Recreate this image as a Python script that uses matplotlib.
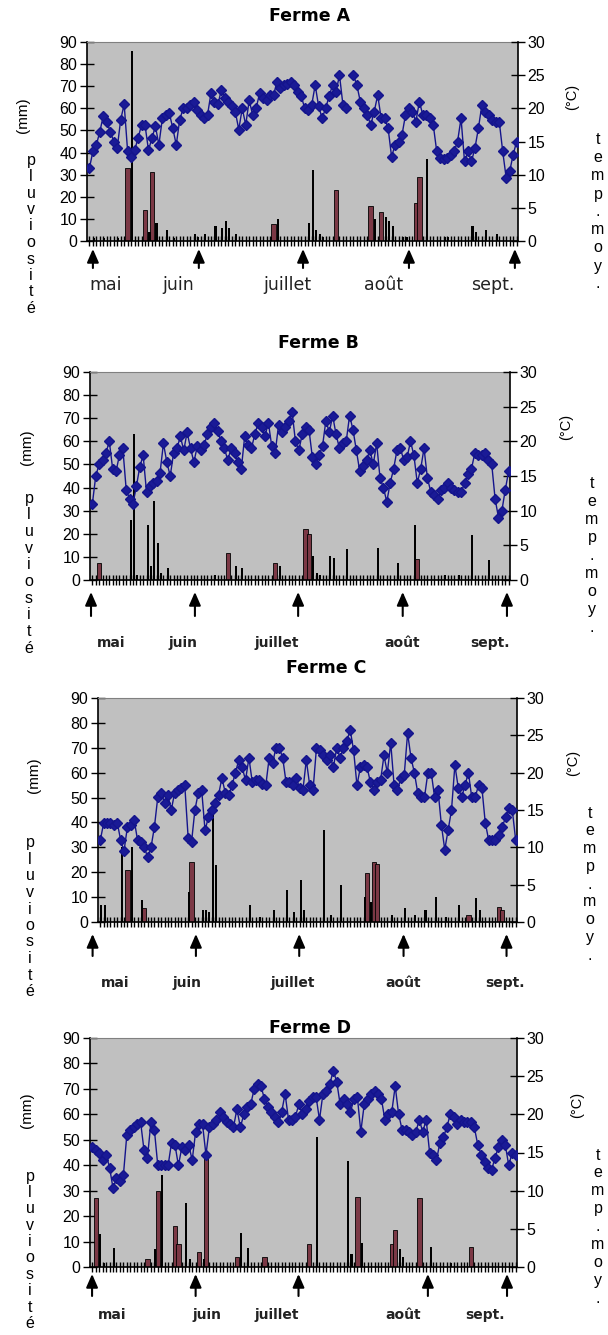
import numpy as np
import matplotlib.pyplot as plt

W, H = 608, 1335
plt.rcParams['font.family'] = ['Liberation Sans', 'DejaVu Sans']

days = np.arange(124)  # 1 May .. 1 Sept

# mean daily temperature (degC), one value per day
temp_a = [11, 13.5, 14.5, 16.5, 18.9, 18, 16.5, 15, 14, 18.3,
          20.6, 13.5, 12.7, 13.7, 15.5, 17.5, 17.5, 13.7, 15.5, 17.3,
          14.5, 18.5, 19, 19.3, 17, 14.5, 18.3, 20, 20, 20.5,
          20.9, 19.8, 19, 18.5, 19, 22.3, 21, 20.6, 22.8, 21.5,
          21, 20.3, 19.5, 16.8, 20, 17.5, 21.2, 19, 20, 22.3,
          21.5, 21.2, 22, 22, 24, 23, 23.5, 23.7, 24, 23.5,
          22.5, 21.8, 20, 19.8, 20.5, 23.5, 20.3, 18.5, 20, 21.8,
          23.5, 22.5, 25, 20.5, 20, np.nan, 25, 23.5, 21, 20,
          19, 17.5, 19.5, 22, 18.5, 18.5, 17, 12.7, 14.5, 15,
          16, 19, 20, 19.5, 18, 21, 19, 19, 18.5, 17.5,
          13.5, 12.5, 12.3, 12.5, 13, 13.5, 15, 18.5, 12, 13.5,
          12, 14, 17, 20.5, 19.5, 19, 18.3, 18, 18, 13.5,
          9.5, 10.5, 13, 15]

temp_b = [11.0, 15.0, 16.7, 17.3, 18.3, 20.0, 16.0, 15.7, 18.0, 19.0,
          13.0, 11.7, 11.0, 13.5, 16.3, 18.0, 12.7, 13.5, 14.0, 14.3,
          15.5, 19.7, 17.0, 15.0, 18.3, 19.0, 20.7, 18.7, 21.3, 19.0,
          17.0, 19.3, 18.7, 19.5, 21.0, 22.0, 22.7, 21.5, 20.0, 19.0,
          17.3, 19.0, 18.3, 17.0, 16.0, 20.7, 19.5, 19.0, 21.0, 22.7,
          22.0, 20.7, 22.7, 19.3, 18.3, 22.3, 21.3, 22.0, 23.0, 24.3,
          20.0, 18.7, 21.0, 22.0, 21.7, 17.7, 16.7, 18.0, 19.3, 23.0,
          21.3, 23.7, 21.0, 19.0, 19.7, 20.0, 23.7, 21.7, 18.7, 15.7,
          16.5, 17.3, 18.7, 16.7, 19.7, 14.7, 13.3, 11.3, 14.0, 16.0,
          18.7, 19.0, 17.3, 17.7, 20.0, 18.0, 14.0, 16.0, 19.0, 14.7,
          12.7, 12.3, 11.7, 13.0, 13.3, 14.0, 13.3, 13.0, 12.7, 12.7,
          14.0, 15.3, 16.0, 18.3, 18.0, 18.0, 18.3, 17.3, 16.7, 11.7,
          9.0, 10.0, 13.0, 15.7]

temp_c = [11.0, 13.3, 13.3, 13.3, 13.0, 13.3, 11.0, 9.5, 12.7, 13.0,
          13.7, 11.0, 10.7, 10.0, 8.7, 10.0, 12.7, 16.7, 17.3, 16.0,
          17.0, 15.0, 17.3, 17.7, 18.0, 18.3, 11.3, 10.7, 15.0, 17.3,
          17.7, 12.3, 14.0, 15.0, 16.0, 17.0, 19.3, 17.3, 17.0, 18.3,
          20.0, 21.7, 20.7, 19.0, 22.0, 18.7, 19.0, 19.0, 18.5, 18.3,
          22.0, 21.3, 23.3, 23.3, 22.0, 18.7, 18.7, 18.3, 19.3, 18.0,
          17.7, 21.7, 18.3, 17.7, 23.3, 23.0, 22.3, 21.7, 22.3, 20.7,
          23.3, 22.0, 23.3, 24.3, 25.7, 23.0, 18.3, 20.7, 21.0, 20.7,
          18.7, 17.7, 18.7, 19.0, 22.3, 20.0, 24.0, 18.3, 17.7, 19.3,
          19.7, 25.3, 22.0, 20.0, 17.3, 16.7, 16.7, 20.0, 20.0, 16.7,
          17.7, 13.0, 9.7, 12.3, 15.0, 21.0, 18.0, 16.7, 18.3, 20.0,
          16.7, 16.7, 18.3, 18.0, 13.3, 11.0, 11.0, 11.0, 11.7, 12.7,
          14.0, 15.3, 15.0, 11.0]

temp_d = [15.7, 15.3, 15.0, 14.0, 14.7, 13.0, 10.3, 11.7, 11.3, 12.0,
          17.3, 18.0, 18.3, 18.7, 19.0, 15.3, 14.3, 19.0, 18.0, 13.3,
          13.3, 13.3, 13.3, 16.3, 16.0, 13.3, 15.7, 15.3, 16.0, 14.0,
          17.7, 18.7, 18.7, 14.7, 18.3, 18.7, 19.3, 20.3, 19.7, 19.0,
          18.7, 18.3, 20.7, 18.3, 20.0, 21.0, 21.3, 23.3, 24.0, 23.7,
          22.0, 21.0, 20.3, 19.7, 19.0, 20.3, 22.7, 19.3, 19.3, 19.7,
          21.3, 20.0, 20.7, 21.7, 22.3, 22.3, 19.3, 22.7, 23.0, 24.0,
          25.7, 24.3, 21.3, 22.0, 21.3, 20.3, 22.0, 22.3, 17.7, 21.3,
          22.0, 22.7, 23.0, 22.7, 22.0, 19.3, 20.0, 20.3, 23.7, 20.0,
          18.0, 18.0, 17.7, 17.3, 17.7, 19.3, 17.7, 19.3, 15.0, 14.7,
          14.0, 16.3, 17.0, 18.3, 20.0, 19.7, 18.7, 19.3, 19.0, 19.0,
          19.0, 18.3, 16.0, 14.7, 13.7, 13.0, 12.7, 14.3, 15.7, 16.7,
          16.0, 13.3, 15.0, 14.7]

# rainfall (mm): (day, mm) for the two gauges
rain_a_red = [(11, 33), (16, 14), (18, 31), (53, 7.5), (71, 23), (81, 16),
              (84, 13), (94, 17), (95, 29)]
rain_a_black = [(1, 1.5), (4, 1.5), (8, 1.5), (12, 86), (17, 4), (19, 8),
                (22, 5), (24, 1.5), (30, 3), (31, 2), (33, 3), (36, 7),
                (38, 6), (39, 9), (40, 6), (42, 3), (52, 2), (54, 10),
                (63, 8), (64, 32), (65, 5), (66, 3), (67, 2), (82, 10),
                (85, 11), (86, 9), (87, 7), (90, 2), (91, 2), (97, 37),
                (102, 2), (103, 2), (110, 7), (111, 4), (114, 5), (117, 3)]

rain_b_red = [(2, 7.5), (40, 11.5), (54, 7.5), (63, 22), (64, 20), (96, 9)]
rain_b_black = [(11, 26), (12, 63), (13, 2), (16, 24), (17, 6), (18, 34),
                (19, 16), (20, 3), (22, 5), (36, 2), (42, 6), (44, 5),
                (55, 6), (65, 10.5), (66, 3), (67, 2), (70, 10.5), (71, 9.5),
                (75, 13.5), (84, 14), (90, 7.5), (95, 24), (104, 2),
                (108, 2), (112, 19.5), (117, 8.5)]

rain_c_red = [(8, 21), (13, 5.5), (27, 24), (79, 19.5), (81, 24), (82, 23.5),
              (109, 3), (118, 6), (119, 5)]
rain_c_black = [(0, 7), (1, 7), (6, 30), (9, 30), (12, 9), (26, 12), (30, 5),
                (31, 5), (32, 4), (33, 44), (34, 23), (44, 7), (47, 2),
                (51, 5), (55, 13), (57, 4), (59, 17), (60, 5), (66, 37),
                (68, 3), (71, 15), (78, 10), (80, 8), (86, 3), (90, 5.5),
                (93, 3), (96, 5), (99, 10), (102, 2), (106, 7), (111, 9.5),
                (112, 5)]

rain_d_red = [(1, 27), (16, 3), (19, 30), (24, 16), (25, 9), (31, 6), (33, 45),
              (42, 4), (50, 4), (63, 9), (77, 27.5), (87, 9), (88, 14.5),
              (95, 27), (110, 8)]
rain_d_black = [(2, 13), (3, 1.5), (6, 7.5), (18, 7), (20, 36), (27, 25),
                (28, 3), (32, 3), (43, 13.5), (45, 7.5), (65, 51), (74, 41.5),
                (75, 5), (78, 9.5), (89, 7), (90, 4), (98, 8), (104, 1.5)]

month_names = ['mai', 'juin', 'juillet', 'août', 'sept.']

# panel layout in pixels (axes box: left, right, top, zero line)
panels = [
    dict(title='Ferme A', temp=temp_a, red=rain_a_red, black=rain_a_black,
         box=(87, 518, 42, 241), title_xy=(310, 16),
         arrow_days=[1, 31.5, 61.5, 92, 122.5], label_days=[4.8, 25.6, 57.1, 84.6, 116],
         arrow_y=(249, 268), label_y=285, label_size=12.5, label_weight='normal',
         mm_xy=(23, 115), pluvio=(31, 160, 16.5), deg_xy=(572, 97), tmoy=(598, 140, 18)),
    dict(title='Ferme B', temp=temp_b, red=rain_b_red, black=rain_b_black,
         box=(90, 510, 372, 580), title_xy=(318, 343),
         arrow_days=[-0.4, 30.3, 60.8, 91.7, 122.5], label_days=[5.6, 26.7, 54.6, 91.6, 117.6],
         arrow_y=(592, 616), label_y=643, label_size=10, label_weight='bold',
         mm_xy=(27, 447), pluvio=(29, 498, 16.7), deg_xy=(566, 427), tmoy=(592, 484, 17.9)),
    dict(title='Ferme C', temp=temp_c, red=rain_c_red, black=rain_c_black,
         box=(98, 517, 698, 922), title_xy=(326, 668),
         arrow_days=[-2.3, 28.3, 58.9, 89.8, 120.3], label_days=[4.3, 25.8, 56.9, 89.6, 119.9],
         arrow_y=(934, 956), label_y=983, label_size=10, label_weight='bold',
         mm_xy=(34, 775), pluvio=(30, 843, 16.5), deg_xy=(573, 763), tmoy=(590, 813, 17.8)),
    dict(title='Ferme D', temp=temp_d, red=rain_d_red, black=rain_d_black,
         box=(90, 517, 1038, 1267), title_xy=(310, 1028),
         arrow_days=[-0.1, 30.0, 59.9, 97.5, 120.5], label_days=[5.7, 33.4, 53.6, 90.2, 114.0],
         arrow_y=(1274, 1296), label_y=1315, label_size=10, label_weight='bold',
         mm_xy=(27, 1110), pluvio=(30, 1176, 16.4), deg_xy=(577, 1105), tmoy=(598, 1155, 17.9)),
]


def fx(x):
    return x / W


def fy(y):
    return 1 - y / H


def draw_panel(fig, p):
    left, right, top, bottom = p['box']
    ax = fig.add_axes([fx(left), fy(bottom), (right - left) / W, (bottom - top) / H])
    ax.set_facecolor('#c0c0c0')
    ax.set_xlim(-0.7, 123.4)
    ax.set_ylim(0, 90)

    rd, rv = zip(*p['red'])
    ax.bar(rd, rv, width=1.3, color='#7b3845', edgecolor='black', linewidth=0.6, zorder=2)
    bd, bv = zip(*p['black'])
    ax.bar(np.array(bd) + 0.3, bv, width=0.6, color='black', linewidth=0, zorder=3)

    ax.set_xticks(days)
    ax.tick_params(axis='x', direction='inout', length=7, width=1, labelbottom=False)
    ax.set_yticks(range(0, 91, 10))
    ax.tick_params(axis='y', direction='inout', length=10, width=1, labelsize=11.5, pad=2)
    for s in ['left', 'bottom']:
        ax.spines[s].set_color('black')
        ax.spines[s].set_linewidth(1.2)
    ax.spines['top'].set_color('#808080')
    ax.spines['right'].set_visible(False)

    ax2 = ax.twinx()
    ax2.set_ylim(0, 30)
    ax2.plot(days, p['temp'], color='#14148c', lw=1.0, marker='D', ms=5,
             mfc='#1a1a96', mec='#14148c', zorder=4)
    ax2.set_yticks(range(0, 31, 5))
    ax2.tick_params(axis='y', direction='inout', length=10, width=1, labelsize=11.5, pad=2)
    for s in ['left', 'top', 'bottom']:
        ax2.spines[s].set_visible(False)
    ax2.spines['right'].set_linewidth(1.2)

    fig.text(fx(p['title_xy'][0]), fy(p['title_xy'][1]), p['title'], ha='center', va='center',
             fontsize=12.5, fontweight='bold', family='DejaVu Sans')

    tip, tail = p['arrow_y']
    for d in p['arrow_days']:
        ax.annotate('', xy=(d, H - tip), xytext=(d, H - tail),
                    xycoords=('data', 'figure pixels'), textcoords=('data', 'figure pixels'),
                    arrowprops=dict(arrowstyle='-|>,head_length=0.8,head_width=0.35',
                                    color='black', lw=1.5, shrinkA=0, shrinkB=0),
                    annotation_clip=False)
    for d, name in zip(p['label_days'], month_names):
        ax.annotate(name, xy=(d, H - p['label_y']), xycoords=('data', 'figure pixels'),
                    ha='center', va='center', fontsize=p['label_size'],
                    fontweight=p['label_weight'], family='DejaVu Sans',
                    color='#222222', annotation_clip=False)

    fig.text(fx(p['mm_xy'][0]), fy(p['mm_xy'][1]), '(mm)', rotation=90,
             ha='center', va='center', fontsize=11)
    fig.text(fx(p['deg_xy'][0]), fy(p['deg_xy'][1]), '(°C)', rotation=90,
             ha='center', va='center', fontsize=10.5)

    x0, y0, step = p['pluvio']
    for i, ch in enumerate('pluviosité'):
        fig.text(fx(x0), fy(y0 + i * step), ch, ha='center', va='center', fontsize=11.5)
    x0, y0, step = p['tmoy']
    for i, ch in enumerate('temp.moy.'):
        fig.text(fx(x0), fy(y0 + i * step), ch, ha='center', va='center', fontsize=11.5)


fig = plt.figure(figsize=(W / 100, H / 100), dpi=100)
fig.patch.set_facecolor('white')
for p in panels:
    draw_panel(fig, p)

fig.savefig('out.png', dpi=100)
